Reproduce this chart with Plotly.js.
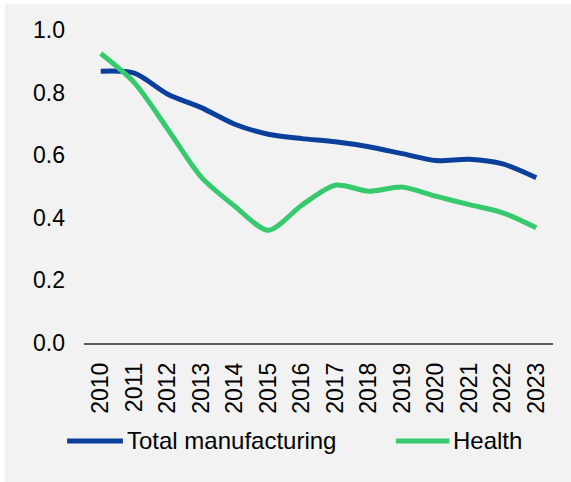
<!DOCTYPE html>
<html>
<head>
<meta charset="utf-8">
<script src="https://cdn.plot.ly/plotly-3.0.1.min.js"></script>
<style>
  html, body { margin: 0; padding: 0; background: #ffffff; width: 571px; height: 482px; overflow: hidden; }
  #chart { position: absolute; left: 5px; top: 4px; width: 566px; height: 478px; }
</style>
</head>
<body>
<div id="chart"></div>
<script>
const years = ["2010","2011","2012","2013","2014","2015","2016","2017","2018","2019","2020","2021","2022","2023"];
const totalManufacturing = [0.868, 0.862, 0.795, 0.752, 0.699, 0.667, 0.653, 0.643, 0.627, 0.605, 0.583, 0.587, 0.572, 0.528];
const health = [0.925, 0.832, 0.683, 0.530, 0.437, 0.360, 0.440, 0.504, 0.485, 0.498, 0.469, 0.442, 0.416, 0.368];
const yTicks = [0, 0.2, 0.4, 0.6, 0.8, 1.0];
const seriesNames = ["Total manufacturing", "Health"];
const seriesColors = ["#0a3f9c", "#36c96e"];

const font = {family: "Arial, 'Liberation Sans', sans-serif", size: 23, color: "#000000"};

const traces = [totalManufacturing, health].map((vals, i) => ({
  type: "scatter",
  mode: "lines",
  x: years,
  y: vals,
  name: seriesNames[i],
  line: {color: seriesColors[i], width: 5, shape: "spline", smoothing: 0.8},
  showlegend: false,
  hoverinfo: "skip"
}));

// custom legend (line swatch + label)
const legendPos = [{x0: -0.036, x1: 0.083, tx: 0.087}, {x0: 0.665, x1: 0.779, tx: 0.783}];
const legendY = -0.313;
const shapes = legendPos.map((p, i) => ({
  type: "line", xref: "paper", yref: "paper",
  x0: p.x0, x1: p.x1, y0: legendY, y1: legendY,
  line: {color: seriesColors[i], width: 5}
}));
const annotations = legendPos.map((p, i) => ({
  xref: "paper", yref: "paper", x: p.tx, y: legendY,
  xanchor: "left", yanchor: "middle", showarrow: false,
  text: seriesNames[i], font: {family: font.family, size: 24, color: "#000000"}
}));

const layout = {
  width: 566, height: 478,
  margin: {l: 79, r: 18, t: 26, b: 139},
  paper_bgcolor: "#f2f2f2",
  plot_bgcolor: "#f2f2f2",
  font: font,
  showlegend: false,
  xaxis: {
    type: "category",
    range: [-0.5, years.length - 0.5],
    tickangle: -90,
    showgrid: false,
    zeroline: false,
    showline: true,
    linecolor: "#595959",
    linewidth: 1.5,
    ticks: "",
    ticklabelstandoff: 9,
    tickfont: font,
    fixedrange: true
  },
  yaxis: {
    range: [0, 1.0],
    tickvals: yTicks,
    ticktext: yTicks.map(v => v.toFixed(1)),
    showgrid: false,
    zeroline: false,
    showline: false,
    ticks: "",
    ticklabelstandoff: 18,
    tickfont: font,
    fixedrange: true
  },
  shapes: shapes,
  annotations: annotations
};

Plotly.newPlot("chart", traces, layout, {displayModeBar: false, staticPlot: true});
</script>
</body>
</html>
